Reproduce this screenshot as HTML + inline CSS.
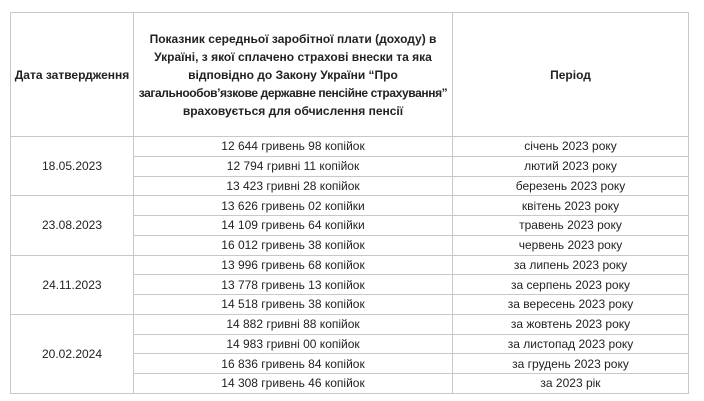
<!DOCTYPE html>
<html><head><meta charset="utf-8"><style>
body{margin:0;width:704px;height:401px;background:#fff;font-family:"Liberation Sans",sans-serif;color:#222;}
table{position:absolute;left:10px;top:12px;border-collapse:collapse;border:1.5px solid #8a8a8a;font-size:12px;table-layout:fixed;}
td{border:1px solid #c8c8c8;text-align:center;padding:0;line-height:14px;}
td.h{font-weight:bold;height:123px;line-height:18px;white-space:nowrap;overflow:visible;}
tr.r td{height:18.75px;}
</style></head><body>
<table>
<colgroup><col style="width:123px"><col style="width:319px"><col style="width:236px"></colgroup>
<tr><td class="h">Дата затвердження</td><td class="h">Показник середньої заробітної плати (доходу) в<br>Україні, з якої сплачено страхові внески та яка<br>відповідно до Закону України “Про<br><span style="letter-spacing:-0.4px">загальнообов’язкове державне пенсійне страхування”</span><br>враховується для обчислення пенсії</td><td class="h">Період</td></tr>
<tr class="r"><td rowspan="3">18.05.2023</td><td>12 644 гривень 98 копійок</td><td>січень 2023 року</td></tr>
<tr class="r"><td>12 794 гривні 11 копійок</td><td>лютий 2023 року</td></tr>
<tr class="r"><td>13 423 гривні 28 копійок</td><td>березень 2023 року</td></tr>
<tr class="r"><td rowspan="3">23.08.2023</td><td>13 626 гривень 02 копійки</td><td>квітень 2023 року</td></tr>
<tr class="r"><td>14 109 гривень 64 копійки</td><td>травень 2023 року</td></tr>
<tr class="r"><td>16 012 гривень 38 копійок</td><td>червень 2023 року</td></tr>
<tr class="r"><td rowspan="3">24.11.2023</td><td>13 996 гривень 68 копійок</td><td>за липень 2023 року</td></tr>
<tr class="r"><td>13 778 гривень 13 копійок</td><td>за серпень 2023 року</td></tr>
<tr class="r"><td>14 518 гривень 38 копійок</td><td>за вересень 2023 року</td></tr>
<tr class="r"><td rowspan="4">20.02.2024</td><td>14 882 гривні 88 копійок</td><td>за жовтень 2023 року</td></tr>
<tr class="r"><td>14 983 гривні 00 копійок</td><td>за листопад 2023 року</td></tr>
<tr class="r"><td>16 836 гривень 84 копійок</td><td>за грудень 2023 року</td></tr>
<tr class="r"><td>14 308 гривень 46 копійок</td><td>за 2023 рік</td></tr>
</table>
</body></html>
